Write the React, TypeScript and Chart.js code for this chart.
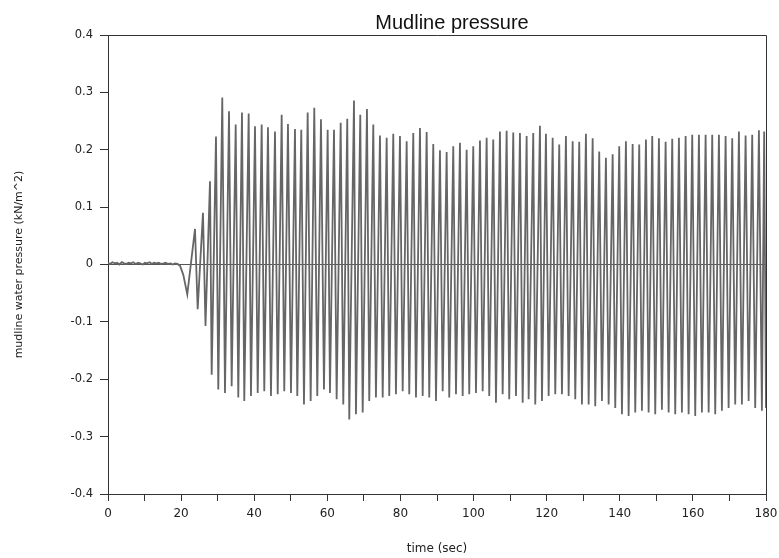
import React, { useEffect, useRef } from "react";
import { Chart, registerables } from "chart.js";

Chart.register(...registerables);

const chartTitle = "Mudline pressure";
const xAxisTitle = "time (sec)";
const yAxisTitle = "mudline water pressure (kN/m^2)";
const xTickLabelsEvery = 20;

// quiet record before the wave arrives
const baseTimes = [0, 0.6, 1.2, 1.9, 2.5, 3.1, 3.8, 4.4, 5.0, 5.7, 6.3, 6.9, 7.6, 8.2, 8.8, 9.5, 10.1, 10.7, 11.4, 12.0, 12.6, 13.3, 13.9, 14.5, 15.2, 15.8, 16.4, 17.1, 17.7, 18.3, 19.0, 19.7, 20.6];
const baseValues = [0.003, 0.001, 0.004, 0.002, 0.003, 0.0, 0.004, 0.002, 0.001, 0.003, 0.002, 0.004, 0.001, 0.003, 0.002, 0.0, 0.003, 0.002, 0.004, 0.001, 0.003, 0.002, 0.003, 0.001, 0.002, 0.003, 0.001, 0.002, 0.0, 0.002, 0.001, -0.002, -0.018];

// crests of the oscillation
const peakTimes = [23.80, 25.98, 27.90, 29.54, 31.26, 33.10, 34.93, 36.65, 38.48, 40.21, 42.04, 43.76, 45.68, 47.51, 49.23, 51.15, 52.87, 54.62, 56.43, 58.26, 60.09, 61.82, 63.65, 65.45, 67.29, 69.01, 70.84, 72.57, 74.40, 76.23, 78.04, 79.87, 81.70, 83.51, 85.34, 87.17, 88.98, 90.81, 92.64, 94.45, 96.28, 98.11, 99.92, 101.75, 103.58, 105.39, 107.22, 109.05, 110.86, 112.69, 114.52, 116.33, 118.16, 119.80, 121.64, 123.44, 125.27, 127.11, 128.91, 130.74, 132.58, 134.38, 136.21, 138.05, 139.85, 141.68, 143.52, 145.32, 147.16, 148.88, 150.71, 152.54, 154.35, 156.18, 158.01, 159.82, 161.65, 163.48, 165.29, 167.12, 168.95, 170.76, 172.59, 174.42, 176.23, 178.06, 179.50];
const peakValues = [0.062, 0.090, 0.145, 0.223, 0.291, 0.267, 0.244, 0.265, 0.263, 0.241, 0.244, 0.239, 0.232, 0.261, 0.245, 0.236, 0.235, 0.265, 0.273, 0.253, 0.235, 0.235, 0.247, 0.254, 0.286, 0.261, 0.271, 0.244, 0.225, 0.221, 0.228, 0.224, 0.215, 0.229, 0.238, 0.231, 0.210, 0.199, 0.196, 0.206, 0.212, 0.200, 0.206, 0.216, 0.221, 0.218, 0.232, 0.233, 0.230, 0.229, 0.224, 0.229, 0.242, 0.228, 0.221, 0.209, 0.224, 0.215, 0.214, 0.228, 0.220, 0.197, 0.186, 0.192, 0.206, 0.215, 0.210, 0.209, 0.218, 0.224, 0.220, 0.214, 0.219, 0.221, 0.224, 0.226, 0.226, 0.226, 0.226, 0.226, 0.224, 0.220, 0.232, 0.225, 0.226, 0.234, 0.232];

// troughs of the oscillation
const troughTimes = [21.69, 24.53, 26.67, 28.36, 30.17, 32.00, 33.83, 35.64, 37.28, 39.11, 40.95, 42.75, 44.58, 46.42, 48.22, 50.05, 51.78, 53.61, 55.44, 57.25, 59.08, 60.72, 62.55, 64.36, 66.00, 67.83, 69.67, 71.47, 73.30, 75.14, 76.94, 78.77, 80.61, 82.41, 84.25, 86.08, 87.88, 89.72, 91.55, 93.35, 95.19, 97.02, 98.82, 100.66, 102.49, 104.29, 106.13, 107.96, 109.76, 111.60, 113.43, 115.07, 116.88, 118.71, 120.54, 122.35, 124.18, 126.01, 127.82, 129.65, 131.48, 133.29, 135.12, 136.95, 138.76, 140.59, 142.42, 144.23, 146.06, 147.89, 149.70, 151.53, 153.36, 155.17, 157.00, 158.83, 160.64, 162.47, 164.31, 166.11, 167.94, 169.77, 171.58, 173.41, 175.25, 177.05, 178.88, 180.00];
const troughValues = [-0.052, -0.078, -0.107, -0.192, -0.218, -0.224, -0.212, -0.232, -0.238, -0.229, -0.224, -0.221, -0.229, -0.226, -0.221, -0.224, -0.229, -0.244, -0.238, -0.229, -0.218, -0.224, -0.235, -0.244, -0.270, -0.261, -0.258, -0.238, -0.232, -0.232, -0.229, -0.226, -0.221, -0.226, -0.232, -0.229, -0.232, -0.238, -0.221, -0.232, -0.226, -0.229, -0.226, -0.224, -0.221, -0.229, -0.241, -0.226, -0.235, -0.229, -0.241, -0.235, -0.244, -0.238, -0.229, -0.226, -0.226, -0.229, -0.235, -0.244, -0.244, -0.247, -0.238, -0.244, -0.250, -0.261, -0.264, -0.258, -0.255, -0.258, -0.261, -0.253, -0.258, -0.261, -0.258, -0.261, -0.264, -0.258, -0.258, -0.261, -0.255, -0.250, -0.244, -0.244, -0.238, -0.250, -0.255, -0.250];

function buildPoints() {
  const pts: { x: number; y: number }[] = [];
  baseTimes.forEach((t, i) => pts.push({ x: t, y: baseValues[i] }));
  peakTimes.forEach((t, i) => pts.push({ x: t, y: peakValues[i] }));
  troughTimes.forEach((t, i) => pts.push({ x: t, y: troughValues[i] }));
  pts.sort((a, b) => a.x - b.x);
  return pts;
}

const frameAndTitle = {
  id: "frameAndTitle",
  afterDraw(chart: any) {
    const { ctx, chartArea } = chart;
    ctx.save();
    ctx.strokeStyle = "#333";
    ctx.lineWidth = 1;
    ctx.beginPath();
    ctx.moveTo(chartArea.left, chartArea.top + 0.5);
    ctx.lineTo(chartArea.right + 0.5, chartArea.top + 0.5);
    ctx.lineTo(chartArea.right + 0.5, chartArea.bottom);
    ctx.stroke();
    ctx.fillStyle = "#111";
    ctx.font = '20px "Liberation Sans", Arial, sans-serif';
    ctx.textAlign = "center";
    ctx.textBaseline = "alphabetic";
    ctx.fillText(chartTitle, 452, 28.5);
    ctx.restore();
  },
};

export default function App() {
  const canvasRef = useRef<HTMLCanvasElement | null>(null);

  useEffect(() => {
    if (!canvasRef.current) return;
    const chart = new Chart(canvasRef.current, {
      type: "line",
      data: {
        datasets: [
          {
            data: buildPoints(),
            borderColor: "#666",
            borderWidth: 1.8,
            pointRadius: 0,
            tension: 0,
            fill: false,
          },
        ],
      },
      options: {
        animation: false,
        responsive: false,
        events: [],
        layout: { padding: { left: 0, right: 13, top: 35, bottom: 0 } },
        plugins: { legend: { display: false }, tooltip: { enabled: false }, title: { display: false } },
        scales: {
          x: {
            type: "linear",
            min: 0,
            max: 180,
            afterFit: (s: any) => { s.height = 64; s.paddingRight = 0; s.paddingLeft = 0; },
            ticks: {
              stepSize: 10,
              autoSkip: false,
              maxRotation: 0,
              padding: 6,
              color: "#222",
              font: { family: '"DejaVu Sans", sans-serif', size: 12 },
              callback: (v: any) => (Math.round(v) % xTickLabelsEvery === 0 ? String(Math.round(v)) : ""),
            },
            grid: { drawOnChartArea: false, drawTicks: true, tickLength: 7, tickColor: "#333" },
            border: { display: true, color: "#333", width: 1 },
            title: {
              display: true,
              text: xAxisTitle,
              color: "#222",
              font: { family: '"DejaVu Sans", sans-serif', size: 12 },
              padding: { top: 0, bottom: 2 },
            },
          },
          y: {
            type: "linear",
            min: -0.4,
            max: 0.4,
            afterFit: (s: any) => { s.width = 108; s.paddingTop = 0; s.paddingBottom = 0; },
            ticks: {
              stepSize: 0.1,
              padding: 7,
              color: "#222",
              font: { family: '"DejaVu Sans", sans-serif', size: 11.5 },
              callback: (v: any) => (Math.abs(v) < 1e-9 ? "0" : String(Number(Number(v).toFixed(1)))),
            },
            grid: {
              drawOnChartArea: true,
              drawTicks: true,
              tickLength: 8,
              tickColor: "#333",
              color: (c: any) => (c.tick && Math.abs(c.tick.value) < 1e-9 ? "#555" : "rgba(0,0,0,0)"),
            },
            border: { display: true, color: "#333", width: 1 },
            title: {
              display: true,
              text: yAxisTitle,
              color: "#222",
              font: { family: '"DejaVu Sans", sans-serif', size: 11 },
              padding: { top: 13, bottom: 0 },
            },
          },
        },
      },
      plugins: [frameAndTitle],
    });
    return () => chart.destroy();
  }, []);

  return (
    <div style={{ position: "absolute", left: 0, top: 0, width: 779, height: 558, background: "#fff" }}>
      <canvas ref={canvasRef} width={779} height={558} style={{ display: "block" }} />
    </div>
  );
}
